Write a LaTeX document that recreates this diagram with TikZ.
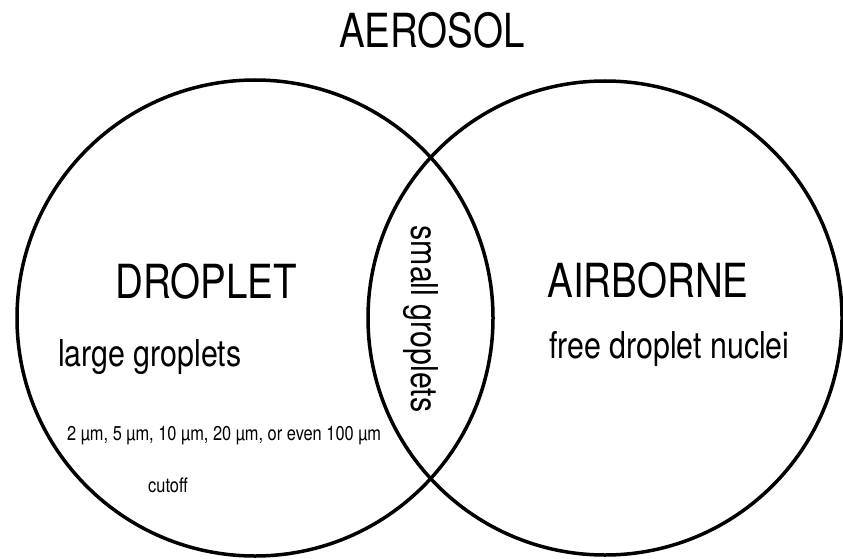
\documentclass[tikz,border=0pt]{standalone}
\usepackage{fontspec}
\setmainfont{TeX Gyre Heros}[FakeStretch=0.82]

\tikzset{
  venn/.style={line width=3.5pt},
  head/.style={inner sep=0pt, font=\fontsize{47}{50}\selectfont},
  mid/.style={inner sep=0pt, font=\fontsize{37}{40}\selectfont},
  tiny/.style={inner sep=0pt, font=\fontsize{20}{22}\selectfont}
}

\begin{document}
\begin{tikzpicture}[x=1pt,y=-1pt]
  \useasboundingbox (0,0) rectangle (843,559);
  \draw[venn] (255,318) circle (238pt);
  \draw[venn] (605,318) circle (237pt);
  \node[head] (aerosol) at (432,30.5) {AEROSOL};
  \node[head] (droplet) at (206,281) {DROPLET};
  \node[head] (airborne) at (648,280) {AIRBORNE};
  \node[mid, anchor=base west] (large) at (58,366) {large groplets};
  \node[mid, anchor=base west] (nuclei) at (549,358) {free droplet nuclei};
  \node[mid, rotate=-90] (small) at (421,319) {small groplets};
  \node[tiny, anchor=base west] (sizes) at (67,440) {2 µm, 5 µm,\ 10 µm, 20 µm, or even 100 µm};
  \node[tiny, anchor=base west] (cutoff) at (148,492) {cutoff};
\end{tikzpicture}
\end{document}
